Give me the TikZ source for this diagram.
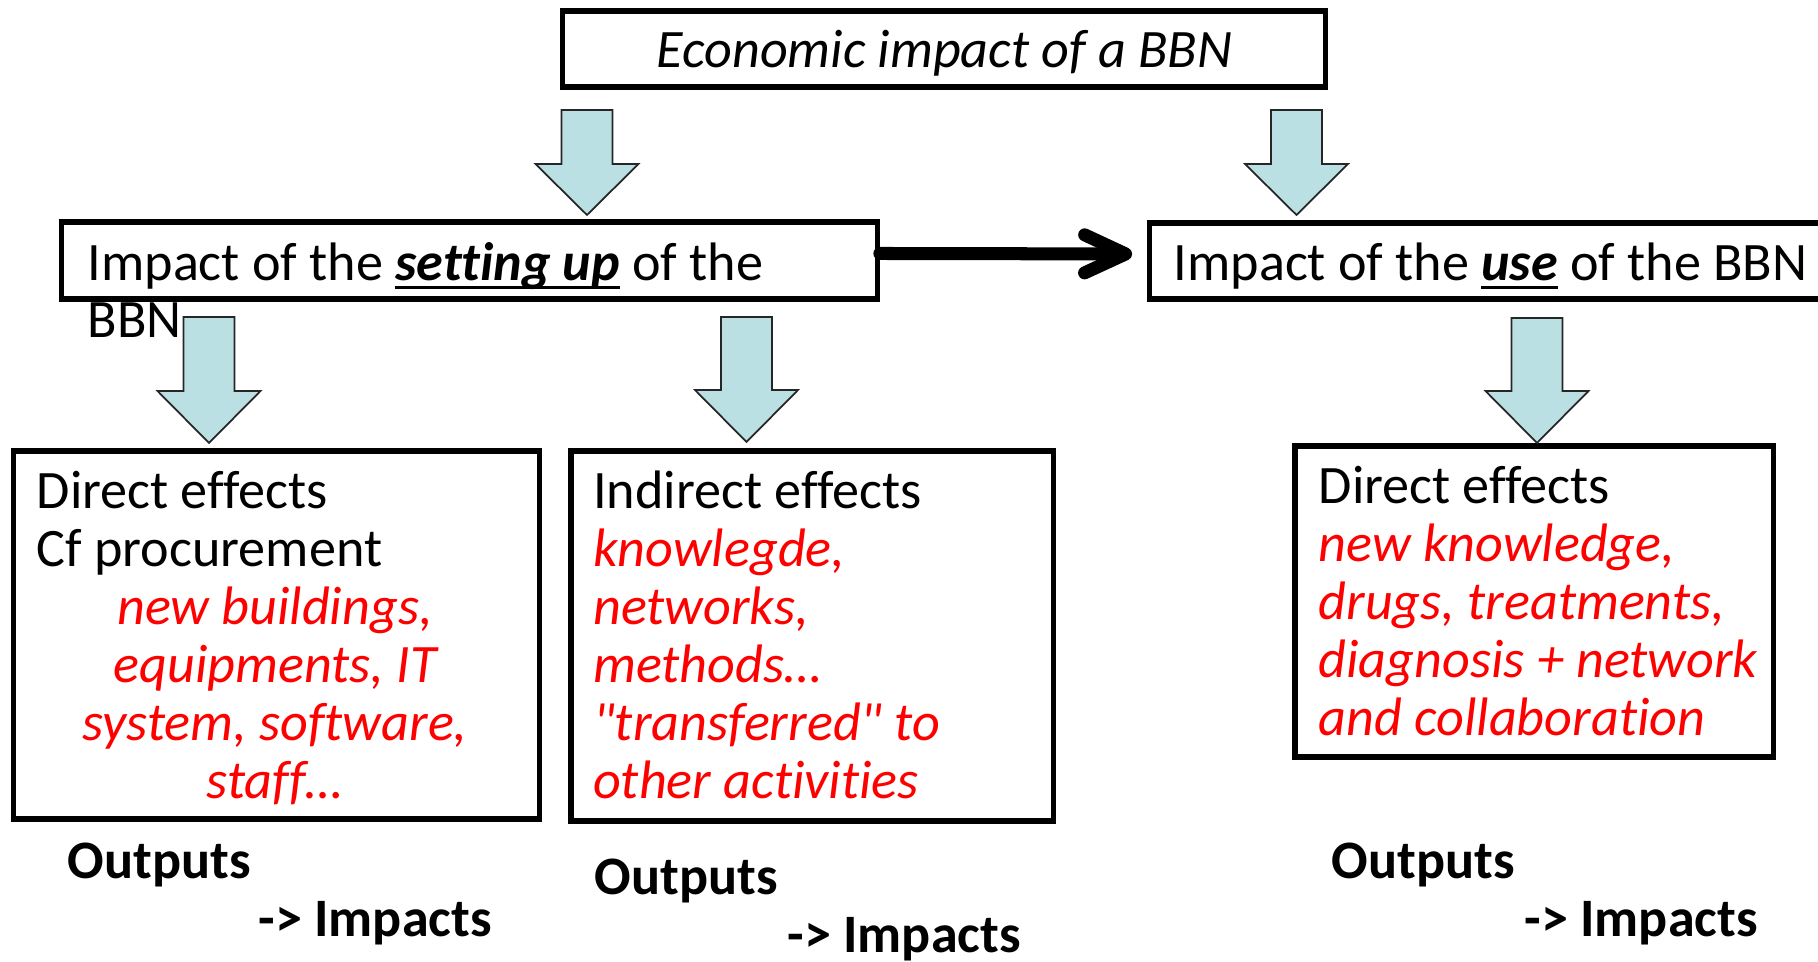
\documentclass[tikz,border=0pt]{standalone}
\usepackage{fontspec}
\setmainfont{Carlito}[Ligatures={NoCommon}]
\usetikzlibrary{arrows.meta}
\definecolor{arrowblue}{RGB}{187,224,227}
\definecolor{bbnred}{RGB}{255,0,0}
\newcommand\bbnsize{\fontsize{15.4}{16.6}\selectfont}
\newcommand\bbnul[1]{\setbox0\hbox{#1}\rlap{\rule[-2.2pt]{\wd0}{0.9pt}}\box0\relax}
\newcommand\bbnarrow[4]{%
  \draw[blockarrow] (#1-25.5,#2) -- (#1+25.5,#2) -- (#1+25.5,#3) -- (#1+51.5,#3)
    -- (#1,#4) -- (#1-51.5,#3) -- (#1-25.5,#3) -- cycle;}
\begin{document}
\begin{tikzpicture}[x=0.01cm,y=-0.01cm,
  box/.style={draw=black, line width=1.5pt, fill=white, inner sep=0pt},
  lbl/.style={inner sep=0pt, anchor=base west, font=\bbnsize},
  lblc/.style={inner sep=0pt, anchor=base, font=\bbnsize},
  rtxt/.style={text=bbnred, font=\bbnsize\itshape},
  btxt/.style={font=\bbnsize\bfseries},
  blockarrow/.style={fill=arrowblue, draw=black!85, line width=0.5pt, line join=miter},
  bigarrow/.style={line width=3.7pt, line cap=round,
    -{Straight Barb[length=4.1mm, width=3.8mm, round]}}]
\useasboundingbox (0,0) rectangle (1818,962);
\clip (0,0) rectangle (1818,962);
% boxes
\node[box, minimum width=7.62cm, minimum height=0.76cm] (top) at (944,49) {};
\node[box, minimum width=8.15cm, minimum height=0.77cm] (setup) at (469.5,260.5) {};
\node[box, minimum width=6.9cm, minimum height=0.76cm] (use) at (1495,261) {};
\node[box, minimum width=5.25cm, minimum height=3.68cm] (boxA) at (276.5,635) {};
\node[box, minimum width=4.82cm, minimum height=3.70cm] (boxB) at (812,636) {};
\node[box, minimum width=4.78cm, minimum height=3.11cm] (boxC) at (1534,601.5) {};
% connector
\draw[bigarrow, shorten >=0.15cm] ([yshift=0.07cm]setup.east) -- ([yshift=0.07cm]use.west);
% block arrows
\bbnarrow{587}{110}{164}{215}
\bbnarrow{1296.5}{110}{164}{215}
\bbnarrow{209}{317}{391}{443}
\bbnarrow{746.5}{317}{390}{442}
\bbnarrow{1537}{318}{391}{443}
% texts
\node[lblc, font=\bbnsize\itshape] (ttitle) at (944.5,68) {Economic impact of a BBN};
\node[lbl] (tsetup1) at (87,281) {Impact of the \bbnul{\textbf{\textit{setting up}}} of the};
\node[lbl] (tsetup2) at (87,338) {BBN};
\node[lbl] (tuse) at (1173,281) {Impact of the \bbnul{\textbf{\textit{use}}} of the BBN};
% box A
\node[lbl] (a1) at (36,509) {Direct effects};
\node[lbl] (a2) at (36,567) {Cf procurement};
\node[lblc, rtxt] (a3) at (275,625) {new buildings,};
\node[lblc, rtxt] (a4) at (275,683) {equipments, IT};
\node[lblc, rtxt] (a5) at (275,741) {system, software,};
\node[lblc, rtxt] (a6) at (275,799) {staff…};
% box B
\node[lbl] (b1) at (592.5,509) {Indirect effects};
\node[lbl, rtxt] (b2) at (592.5,567) {knowlegde,};
\node[lbl, rtxt] (b3) at (592.5,625) {networks,};
\node[lbl, rtxt] (b4) at (592.5,683) {methods…};
\node[lbl, rtxt] (b5) at (592.5,741) {\textquotedbl transferred\textquotedbl{} to};
\node[lbl, rtxt] (b6) at (592.5,799) {other activities};
% box C
\node[lbl] (c1) at (1318,504) {Direct effects};
\node[lbl, rtxt] (c2) at (1318,562) {new knowledge,};
\node[lbl, rtxt] (c3) at (1318,620) {drugs, treatments,};
\node[lbl, rtxt] (c4) at (1318,678) {diagnosis + network};
\node[lbl, rtxt] (c5) at (1318,736) {and collaboration};
% outputs
\node[lbl, btxt] (oa1) at (67,879) {Outputs};
\node[lbl, btxt] (oa2) at (258,937) {-> Impacts};
\node[lbl, btxt] (ob1) at (594,895) {Outputs};
\node[lbl, btxt] (ob2) at (787,953) {-> Impacts};
\node[lbl, btxt] (oc1) at (1331,879) {Outputs};
\node[lbl, btxt] (oc2) at (1524,937) {-> Impacts};
\end{tikzpicture}
\end{document}
